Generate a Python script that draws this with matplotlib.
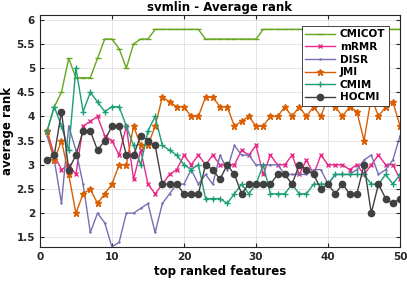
import matplotlib
matplotlib.use('Agg')
import matplotlib.pyplot as plt

features = list(range(1, 51))

cmicot = [3.7, 4.2, 4.5, 5.2, 4.8, 4.8, 4.8, 5.2, 5.6, 5.6, 5.4, 5.0, 5.5, 5.6, 5.6, 5.8, 5.8, 5.8, 5.8, 5.8,
          5.8, 5.8, 5.6, 5.6, 5.6, 5.6, 5.6, 5.6, 5.6, 5.6, 5.8, 5.8, 5.8, 5.8, 5.8, 5.8, 5.8, 5.8, 5.8, 5.8,
          5.8, 5.8, 5.8, 5.8, 5.8, 5.8, 5.8, 5.8, 5.8, 5.8]
mrmr = [3.7, 3.2, 2.9, 3.0, 2.8, 3.8, 3.9, 4.0, 3.6, 3.5, 3.2, 3.8, 2.7, 3.3, 2.6, 2.4, 2.6, 2.8, 2.9, 3.2,
        3.0, 3.2, 3.0, 3.2, 3.0, 3.0, 3.0, 3.3, 3.2, 3.4, 2.8, 3.2, 3.0, 3.0, 3.2, 2.8, 3.1, 2.8, 3.2, 3.0,
        3.0, 3.0, 2.9, 3.0, 2.8, 3.0, 3.2, 3.0, 3.0, 2.7]
disr = [3.6, 3.1, 2.2, 3.8, 3.3, 2.6, 1.6, 2.0, 1.8, 1.3, 1.4, 2.0, 2.0, 2.1, 2.2, 1.6, 2.2, 2.4, 2.6, 2.6,
        2.9, 2.6, 2.8, 2.6, 3.2, 2.9, 3.4, 3.2, 3.2, 3.0, 3.0, 3.0, 3.0, 2.8, 2.8, 2.8, 2.8, 2.9, 2.9, 2.6,
        2.8, 2.8, 2.8, 2.9, 3.1, 3.2, 2.8, 2.9, 3.1, 3.6]
jmi = [3.7, 3.1, 3.5, 2.8, 2.0, 2.4, 2.5, 2.2, 2.4, 2.6, 3.0, 3.0, 3.8, 3.4, 3.4, 3.8, 4.4, 4.3, 4.2, 4.2,
       4.0, 4.0, 4.4, 4.4, 4.2, 4.2, 3.8, 3.9, 4.0, 3.8, 3.8, 4.0, 4.0, 4.2, 4.0, 4.2, 4.0, 4.2, 4.0, 4.4,
       4.2, 4.0, 4.2, 4.1, 3.5, 4.4, 4.0, 4.2, 4.3, 3.8]
cmim = [3.7, 4.2, 3.8, 3.3, 5.0, 4.1, 4.5, 4.3, 4.1, 4.2, 4.2, 3.8, 3.4, 3.0, 3.7, 4.0, 3.4, 3.3, 3.2, 3.0,
        2.9, 3.0, 2.3, 2.3, 2.3, 2.2, 2.4, 2.6, 2.4, 2.6, 3.0, 2.4, 2.4, 2.4, 2.6, 2.4, 2.4, 2.6, 2.6, 2.6,
        2.8, 2.8, 2.8, 2.8, 2.8, 2.6, 2.6, 2.8, 2.6, 2.8]
hocmi = [3.1, 3.2, 4.1, 2.9, 3.2, 3.7, 3.7, 3.3, 3.5, 3.8, 3.8, 3.2, 3.2, 3.6, 3.5, 3.4, 2.6, 2.6, 2.6, 2.4,
         2.4, 2.4, 3.0, 2.9, 2.7, 3.0, 2.8, 2.4, 2.6, 2.6, 2.6, 2.6, 2.8, 2.8, 2.6, 3.0, 2.9, 2.8, 2.5, 2.6,
         2.4, 2.6, 2.4, 2.4, 3.0, 2.0, 2.6, 2.3, 2.2, 2.3]

plt.rcParams['font.family'] = 'DejaVu Sans'
plt.rcParams['font.weight'] = 'bold'

fig = plt.figure(figsize=(4.07, 2.81), dpi=100)
ax = fig.add_axes([0.098, 0.121, 0.885, 0.826])

ax.plot(features, cmicot, color='#66a61e', marker='_', ms=5, lw=1.0, label='CMICOT')
ax.plot(features, mrmr, color='#e7298a', marker='x', ms=3.5, lw=1.0, label='mRMR')
ax.plot(features, disr, color='#7570b3', marker='.', ms=1.5, lw=1.0, label='DISR')
ax.plot(features, jmi, color='#d95f02', marker='*', ms=5, mew=1.0, lw=1.0, label='JMI')
ax.plot(features, cmim, color='#1b9e77', marker='+', ms=5, mew=1.0, lw=1.0, label='CMIM')
ax.plot(features, hocmi, color='#404040', marker='o', ms=4.5, lw=1.0, label='HOCMI')

ax.set_xlim(0, 50)
ax.set_ylim(1.3, 6.1)
ax.set_xticks([0, 10, 20, 30, 40, 50])
ax.set_yticks([1.5, 2, 2.5, 3, 3.5, 4, 4.5, 5, 5.5, 6])
ax.set_yticklabels(['1.5', '2', '2.5', '3', '3.5', '4', '4.5', '5', '5.5', '6'])
ax.tick_params(direction='in', labelsize=7.5, length=3, top=True, right=True, colors='#262626')
ax.grid(True, color='#e0e0e0', lw=0.6)
for s in ax.spines.values():
    s.set_color('#262626')
    s.set_linewidth(0.8)

ax.set_title('svmlin - Average rank', fontsize=8.5, fontweight='bold', pad=3)
ax.set_xlabel('top ranked features', fontsize=8.5, fontweight='bold', labelpad=2)
ax.set_ylabel('average rank', fontsize=8.5, fontweight='bold', labelpad=2)

leg = ax.legend(loc='upper right', bbox_to_anchor=(0.975, 0.962), fontsize=7.5, handlelength=2.8,
                borderaxespad=0.2, borderpad=0.35, labelspacing=0.25, handletextpad=0.5,
                fancybox=False, edgecolor='#262626', framealpha=1)
leg.get_frame().set_linewidth(0.6)

fig.savefig('out.png', dpi=100)
